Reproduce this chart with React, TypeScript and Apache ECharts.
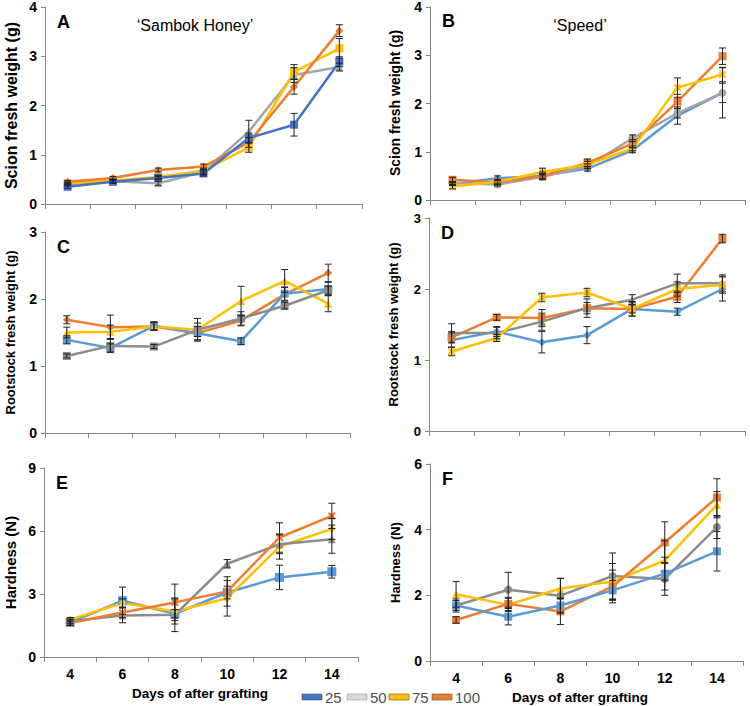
import React, { useEffect, useRef } from "react";
import * as echarts from "echarts";

// ---------- data ----------
const daysTop = ["1", "2", "3", "4", "5", "6", "7"];
const daysBottom = ["4", "6", "8", "10", "12", "14"];
const legendNames = ["25", "50", "75", "100"];

// A: Scion fresh weight, 'Sambok Honey'
const A_25 = [0.35, 0.45, 0.53, 0.62, 1.34, 1.61, 2.89];
const A_50 = [0.4, 0.46, 0.42, 0.65, 1.47, 2.62, 2.78];
const A_75 = [0.42, 0.47, 0.55, 0.68, 1.15, 2.68, 3.16];
const A_100 = [0.45, 0.53, 0.69, 0.76, 1.25, 2.38, 3.52];
const A_25e = [0.03, 0.03, 0.03, 0.05, 0.1, 0.23, 0.1];
const A_50e = [0.03, 0.03, 0.04, 0.05, 0.23, 0.15, 0.08];
const A_75e = [0.03, 0.03, 0.03, 0.05, 0.1, 0.15, 0.2];
const A_100e = [0.03, 0.03, 0.04, 0.05, 0.1, 0.15, 0.12];

// B: Scion fresh weight, 'Speed'
const B_25 = [0.33, 0.45, 0.5, 0.65, 1.03, 1.75, 2.22];
const B_50 = [0.35, 0.32, 0.48, 0.7, 1.28, 1.8, 2.22];
const B_75 = [0.28, 0.38, 0.58, 0.73, 1.07, 2.33, 2.6];
const B_100 = [0.42, 0.37, 0.5, 0.77, 1.17, 2.04, 2.98];
const B_25e = [0.03, 0.05, 0.05, 0.05, 0.05, 0.18, 0.52];
const B_50e = [0.03, 0.03, 0.05, 0.05, 0.07, 0.1, 0.2];
const B_75e = [0.05, 0.05, 0.08, 0.07, 0.05, 0.2, 0.15];
const B_100e = [0.05, 0.05, 0.08, 0.08, 0.08, 0.15, 0.17];

// C: Rootstock fresh weight, 'Sambok Honey'
const C_25 = [1.39, 1.27, 1.6, 1.49, 1.37, 2.08, 2.15];
const C_50 = [1.15, 1.3, 1.29, 1.54, 1.71, 1.9, 2.13];
const C_75 = [1.5, 1.51, 1.59, 1.54, 1.97, 2.27, 1.93];
const C_100 = [1.69, 1.58, 1.59, 1.49, 1.68, 2.07, 2.39];
const C_25e = [0.06, 0.06, 0.06, 0.1, 0.05, 0.1, 0.1];
const C_50e = [0.03, 0.1, 0.03, 0.17, 0.1, 0.05, 0.06];
const C_75e = [0.08, 0.1, 0.06, 0.1, 0.22, 0.17, 0.12];
const C_100e = [0.06, 0.18, 0.06, 0.1, 0.08, 0.1, 0.13];

// D: Rootstock fresh weight, 'Speed'
const D_25 = [1.28, 1.4, 1.25, 1.35, 1.72, 1.68, 2.0];
const D_50 = [1.38, 1.38, 1.54, 1.73, 1.85, 2.08, 2.08];
const D_75 = [1.12, 1.31, 1.88, 1.95, 1.72, 2.0, 2.06];
const D_100 = [1.32, 1.6, 1.59, 1.73, 1.72, 1.89, 2.71];
const D_25e = [0.1, 0.07, 0.15, 0.12, 0.1, 0.05, 0.17];
const D_50e = [0.13, 0.08, 0.12, 0.13, 0.07, 0.13, 0.12];
const D_75e = [0.06, 0.05, 0.06, 0.06, 0.1, 0.1, 0.12];
const D_100e = [0.08, 0.04, 0.12, 0.08, 0.06, 0.08, 0.06];

// E: Hardness, 'Sambok Honey'
const E_25 = [1.65, 2.68, 2.06, 3.07, 3.79, 4.06];
const E_50 = [1.7, 1.98, 2.01, 4.44, 5.37, 5.61];
const E_75 = [1.78, 2.57, 2.17, 2.8, 5.26, 6.1];
const E_100 = [1.62, 2.12, 2.6, 3.12, 5.69, 6.72];
const E_25e = [0.15, 0.65, 0.2, 0.3, 0.58, 0.3];
const E_50e = [0.1, 0.35, 0.8, 0.2, 0.45, 0.67];
const E_75e = [0.1, 0.2, 0.6, 0.85, 0.6, 0.5];
const E_100e = [0.1, 0.25, 0.87, 0.7, 0.7, 0.6];

// F: Hardness, 'Speed'
const F_25 = [1.69, 1.35, 1.69, 2.15, 2.66, 3.34];
const F_50 = [1.69, 2.17, 1.99, 2.59, 2.5, 4.08];
const F_75 = [2.03, 1.71, 2.21, 2.42, 3.06, 4.76];
const F_100 = [1.25, 1.74, 1.51, 2.27, 3.61, 4.98];
const F_25e = [0.15, 0.25, 0.2, 0.3, 0.5, 0.6];
const F_50e = [0.2, 0.53, 0.53, 0.7, 0.5, 0.35];
const F_75e = [0.39, 0.2, 0.3, 0.55, 0.6, 0.4];
const F_100e = [0.1, 0.2, 0.4, 0.5, 0.63, 0.57];

// ---------- styles ----------
const FONT = "'Liberation Sans', Arial, sans-serif";
const BLUE_D = "#4472C4";
const BLUE = "#5B9BD5";
const GRAY_L = "#A5A5A5";
const GRAY = "#8C8C8C";
const YELLOW = "#FFC000";
const ORANGE = "#ED7D31";
const AXIS = "#868686";
const XSYM = "path://M0,2L2,0L5,3L8,0L10,2L7,5L10,8L8,10L5,7L2,10L0,8L3,5Z";

type S = { name: string; data: number[]; err: number[]; color: string; symbol: string; size?: number };
type P = {
  letter: string;
  grid: { left: number; top: number; width: number; height: number };
  cats: string[];
  showLabels: boolean;
  max: number;
  interval: number;
  yName: string;
  yNameX: number;
  yNameSize: number;
  tickSize: number;
  series: S[];
};

const panels: P[] = [
  {
    letter: "A", grid: { left: 45, top: 7, width: 317, height: 197 }, cats: daysTop, showLabels: false,
    max: 4, interval: 1, yName: "Scion fresh weight (g)", yNameX: 11, yNameSize: 16, tickSize: 14,
    series: [
      { name: "50", data: A_50, err: A_50e, color: GRAY_L, symbol: "triangle" },
      { name: "75", data: A_75, err: A_75e, color: YELLOW, symbol: "rect" },
      { name: "100", data: A_100, err: A_100e, color: ORANGE, symbol: "diamond" },
      { name: "25", data: A_25, err: A_25e, color: BLUE_D, symbol: "rect" },
    ],
  },
  {
    letter: "B", grid: { left: 430, top: 6, width: 315, height: 194 }, cats: daysTop, showLabels: false,
    max: 4, interval: 1, yName: "Scion fresh weight (g)", yNameX: 395, yNameSize: 14, tickSize: 14,
    series: [
      { name: "25", data: B_25, err: B_25e, color: BLUE, symbol: "diamond" },
      { name: "50", data: B_50, err: B_50e, color: GRAY_L, symbol: "circle" },
      { name: "100", data: B_100, err: B_100e, color: ORANGE, symbol: "rect" },
      { name: "75", data: B_75, err: B_75e, color: YELLOW, symbol: XSYM },
    ],
  },
  {
    letter: "C", grid: { left: 45, top: 232, width: 305, height: 201 }, cats: daysTop, showLabels: false,
    max: 3, interval: 1, yName: "Rootstock fresh weight (g)", yNameX: 10, yNameSize: 13, tickSize: 14,
    series: [
      { name: "100", data: C_100, err: C_100e, color: ORANGE, symbol: "diamond" },
      { name: "25", data: C_25, err: C_25e, color: BLUE, symbol: "rect" },
      { name: "75", data: C_75, err: C_75e, color: YELLOW, symbol: "triangle" },
      { name: "50", data: C_50, err: C_50e, color: GRAY, symbol: "rect" },
    ],
  },
  {
    letter: "D", grid: { left: 429, top: 218, width: 316, height: 213 }, cats: daysTop, showLabels: false,
    max: 3, interval: 1, yName: "Rootstock fresh weight (g)", yNameX: 393, yNameSize: 13, tickSize: 13,
    series: [
      { name: "25", data: D_25, err: D_25e, color: BLUE, symbol: "diamond" },
      { name: "100", data: D_100, err: D_100e, color: ORANGE, symbol: "rect" },
      { name: "50", data: D_50, err: D_50e, color: GRAY, symbol: "triangle" },
      { name: "75", data: D_75, err: D_75e, color: YELLOW, symbol: XSYM },
    ],
  },
  {
    letter: "E", grid: { left: 44, top: 468, width: 314, height: 189 }, cats: daysBottom, showLabels: true,
    max: 9, interval: 3, yName: "Hardness (N)", yNameX: 10, yNameSize: 15, tickSize: 14,
    series: [
      { name: "25", data: E_25, err: E_25e, color: BLUE, symbol: "rect", size: 9 },
      { name: "75", data: E_75, err: E_75e, color: YELLOW, symbol: "diamond" },
      { name: "50", data: E_50, err: E_50e, color: GRAY, symbol: "triangle" },
      { name: "100", data: E_100, err: E_100e, color: ORANGE, symbol: XSYM },
    ],
  },
  {
    letter: "F", grid: { left: 430, top: 464, width: 313, height: 197 }, cats: daysBottom, showLabels: true,
    max: 6, interval: 2, yName: "Hardness (N)", yNameX: 395, yNameSize: 13, tickSize: 14,
    series: [
      { name: "50", data: F_50, err: F_50e, color: GRAY, symbol: "circle" },
      { name: "75", data: F_75, err: F_75e, color: YELLOW, symbol: "triangle" },
      { name: "100", data: F_100, err: F_100e, color: ORANGE, symbol: "rect" },
      { name: "25", data: F_25, err: F_25e, color: BLUE, symbol: "rect" },
    ],
  },
];

const legendColors: Record<string, string> = { "25": BLUE_D, "50": "#D9D9D9", "75": YELLOW, "100": ORANGE };
const legendX = [302, 347, 389, 432];

function buildOption() {
  const grid: any[] = [];
  const xAxis: any[] = [];
  const yAxis: any[] = [];
  const series: any[] = [];
  const graphic: any[] = [];

  panels.forEach((p, gi) => {
    grid.push({ ...p.grid, containLabel: false });
    xAxis.push({
      type: "category",
      gridIndex: gi,
      data: p.cats,
      boundaryGap: true,
      axisLine: { lineStyle: { color: AXIS, width: 1 } },
      axisTick: { show: true, length: 5, lineStyle: { color: AXIS } },
      axisLabel: {
        show: p.showLabels, color: "#000", fontWeight: "bold", fontSize: p.tickSize, fontFamily: FONT, margin: 10,
      },
      splitLine: { show: false },
    });
    yAxis.push({
      type: "value",
      gridIndex: gi,
      min: 0,
      max: p.max,
      interval: p.interval,
      axisLine: { show: true, lineStyle: { color: AXIS, width: 1 } },
      axisTick: { show: true, length: 4, lineStyle: { color: AXIS } },
      axisLabel: { color: "#000", fontWeight: "bold", fontSize: p.tickSize, fontFamily: FONT, margin: 8 },
      splitLine: { show: false },
    });

    p.series.forEach((s) => {
      series.push({
        type: "line",
        name: s.name,
        xAxisIndex: gi,
        yAxisIndex: gi,
        data: s.data,
        symbol: s.symbol,
        symbolSize: s.size ?? 8,
        showSymbol: true,
        lineStyle: { color: s.color, width: 2.5 },
        itemStyle: { color: s.color, borderWidth: 0 },
        z: 3,
      });
      series.push({
        type: "custom",
        name: s.name + " err",
        xAxisIndex: gi,
        yAxisIndex: gi,
        data: s.data.map((v, i) => [i, v, s.err[i]]),
        encode: { x: 0, y: 1 },
        z: 4,
        renderItem: (params: any, api: any) => {
          const i = api.value(0);
          const v = api.value(1);
          const e = api.value(2);
          const t = api.coord([i, v + e]);
          const b = api.coord([i, v - e]);
          const st = { stroke: "#222", lineWidth: 1 };
          return {
            type: "group",
            children: [
              { type: "line", shape: { x1: t[0], y1: t[1], x2: b[0], y2: b[1] }, style: st },
              { type: "line", shape: { x1: t[0] - 3.5, y1: t[1], x2: t[0] + 3.5, y2: t[1] }, style: st },
              { type: "line", shape: { x1: b[0] - 3.5, y1: b[1], x2: b[0] + 3.5, y2: b[1] }, style: st },
            ],
          };
        },
      });
    });

    // panel letter
    graphic.push({
      type: "text",
      left: p.grid.left + 12,
      top: p.grid.top + 6,
      style: { text: p.letter, font: `bold 18px ${FONT}`, fill: "#000" },
    });
    // y-axis name (rotated)
    graphic.push({
      type: "text",
      x: p.yNameX,
      y: p.grid.top + p.grid.height / 2,
      rotation: Math.PI / 2,
      style: {
        text: p.yName, font: `bold ${p.yNameSize}px ${FONT}`, fill: "#000", align: "center", verticalAlign: "middle",
      },
    });
  });

  // cultivar titles
  graphic.push({
    type: "text", x: 195, y: 25,
    style: { text: "\u2018Sambok Honey\u2019", font: `16px ${FONT}`, fill: "#000", align: "center", verticalAlign: "middle" },
  });
  graphic.push({
    type: "text", x: 580, y: 25,
    style: { text: "\u2018Speed\u2019", font: `16px ${FONT}`, fill: "#000", align: "center", verticalAlign: "middle" },
  });
  // x-axis names
  graphic.push({
    type: "text", x: 200, y: 693,
    style: { text: "Days of after grafting", font: `bold 13.5px ${FONT}`, fill: "#000", align: "center", verticalAlign: "middle" },
  });
  graphic.push({
    type: "text", x: 580, y: 697,
    style: { text: "Days of after grafting", font: `bold 13.5px ${FONT}`, fill: "#000", align: "center", verticalAlign: "middle" },
  });
  // legend
  legendNames.forEach((n, i) => {
    const x = legendX[i];
    graphic.push({
      type: "rect", x, y: 694, shape: { width: 20, height: 6 },
      style: { fill: legendColors[n], stroke: n === "50" ? "#999" : "#555", lineWidth: 0.6 },
    });
    graphic.push({
      type: "text", x: x + 23, y: 697,
      style: { text: n, font: `15px ${FONT}`, fill: "#505050", verticalAlign: "middle" },
    });
  });

  return {
    animation: false,
    backgroundColor: "#fff",
    grid,
    xAxis,
    yAxis,
    series,
    graphic,
  };
}

export default function App() {
  const ref = useRef<HTMLDivElement>(null);
  useEffect(() => {
    if (!ref.current) return;
    const chart = echarts.init(ref.current, undefined, { renderer: "svg" });
    chart.setOption(buildOption() as any);
    return () => chart.dispose();
  }, []);
  return (
    <div
      ref={ref}
      style={{ position: "fixed", left: 0, top: 0, width: 750, height: 706, background: "#fff" }}
    />
  );
}
